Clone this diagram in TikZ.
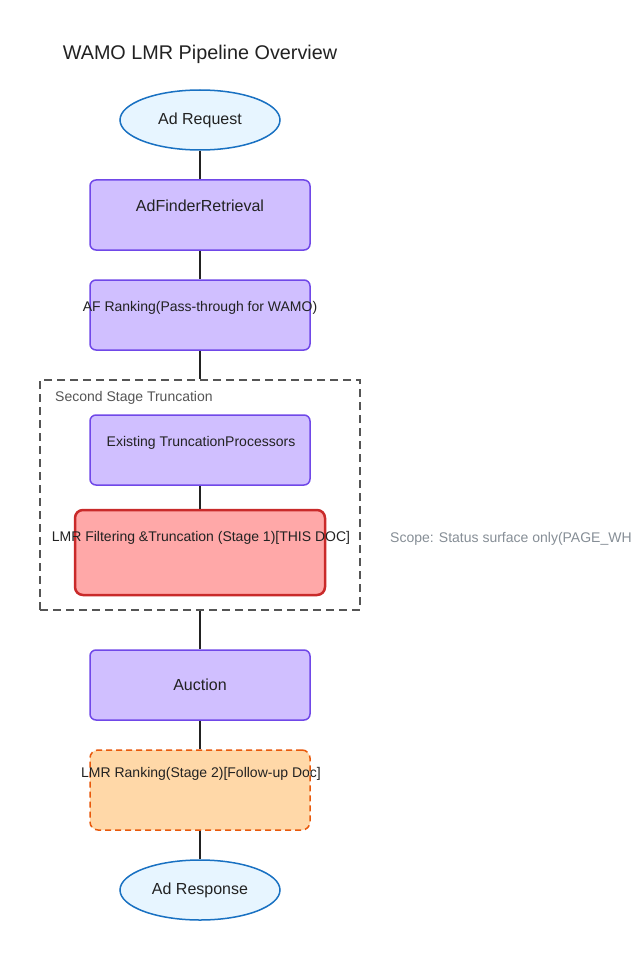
\documentclass[tikz,border=0pt]{standalone}
\usepackage{fontspec}
\setmainfont{Liberation Sans}
\usepackage{tikz}
\usetikzlibrary{shapes.geometric}

\definecolor{procfill}{HTML}{D0BFFF}
\definecolor{procline}{HTML}{7048E8}
\definecolor{termfill}{HTML}{E7F5FF}
\definecolor{termline}{HTML}{1971C2}
\definecolor{focusfill}{HTML}{FFA8A8}
\definecolor{focusline}{HTML}{C92A2A}
\definecolor{nextfill}{HTML}{FFD8A8}
\definecolor{nextline}{HTML}{E8590C}
\definecolor{groupline}{HTML}{555555}
\definecolor{inktext}{HTML}{222222}
\definecolor{notetext}{HTML}{868E96}

\begin{document}
\begin{tikzpicture}[x=1pt, y=-1pt]
    \tikzstyle{terminal} = [ellipse, draw=termline, line width=1.5pt, fill=termfill, inner sep=0pt, minimum width=160pt, minimum height=60pt, text=inktext, font=\fontsize{16}{18}\selectfont]
    \tikzstyle{process} = [rectangle, rounded corners=6pt, draw=procline, line width=1.5pt, fill=procfill, inner sep=0pt, minimum width=220pt, minimum height=70pt, text=inktext, font=\fontsize{16}{18}\selectfont]
    \tikzstyle{focus} = [rectangle, rounded corners=8pt, draw=focusline, line width=2.5pt, fill=focusfill, inner sep=0pt, minimum width=250pt, minimum height=85pt]
    \tikzstyle{followup} = [rectangle, rounded corners=8pt, draw=nextline, line width=1.5pt, dash pattern=on 6pt off 4pt, fill=nextfill, inner sep=0pt, minimum width=220pt, minimum height=80pt]
    \tikzstyle{group} = [rectangle, draw=groupline, line width=1.2pt, dash pattern=on 8pt off 5pt, inner sep=0pt, minimum width=320pt, minimum height=230pt]
    \tikzstyle{boxtext} = [inner sep=0pt, text=inktext, font=\fontsize{14}{16}\selectfont]
    \tikzstyle{bigtext} = [inner sep=0pt, text=inktext, font=\fontsize{16}{18}\selectfont]
    \tikzstyle{link} = [draw=inktext, line width=1.5pt]

    \useasboundingbox (0,0) rectangle (630,960);
    \fill[white] (0,0) rectangle (630,960);
    \clip (0,0) rectangle (630,960);

    % Title
    \node[inner sep=0pt, text=inktext, font=\fontsize{19.8}{24}\selectfont] (title) at (200,54) {WAMO LMR Pipeline Overview};

    % Request side
    \node[terminal] (request) at (200,120) {Ad Request};
    \node[process] (retrieval) at (200,215) {};
    \node[bigtext] (retrievaltxt) at (200,206) {AdFinderRetrieval};
    \node[process] (afranking) at (200,315) {};
    \node[boxtext] (afrankingtxt) at (200,308) {AF Ranking(Pass-through for WAMO)};

    % Second stage truncation
    \node[group] (truncation) at (200,495) {};
    \node[anchor=west, inner sep=0pt, text=groupline, font=\fontsize{14}{16}\selectfont] (truncationtxt) at (55,398) {Second Stage Truncation};
    \node[process] (existing) at (200,450) {};
    \node[boxtext] (existingtxt) at (201,443) {Existing TruncationProcessors};
    \node[focus] (filtering) at (200,552.5) {};
    \node[boxtext] (filteringtxt) at (201,538) {LMR Filtering \&Truncation (Stage 1)[THIS DOC]};

    % Note
    \node[anchor=west, inner sep=0pt, text=notetext, font=\fontsize{14}{16}\selectfont] (scope) at (390,539) {Scope: Status surface only(PAGE\_WH};

    % Response side
    \node[process] (auction) at (200,685) {Auction};
    \node[followup] (lmrranking) at (200,790) {};
    \node[boxtext] (lmrrankingtxt) at (201,774) {LMR Ranking(Stage 2)[Follow-up Doc]};
    \node[terminal] (response) at (200,890) {Ad Response};

    % Links
    \draw[link] (request) -- (retrieval);
    \draw[link] (retrieval) -- (afranking);
    \draw[link] (afranking) -- (truncation);
    \draw[link] (existing) -- (filtering);
    \draw[link] (truncation) -- (auction);
    \draw[link] (auction) -- (lmrranking);
    \draw[link] (lmrranking) -- (response);
\end{tikzpicture}
\end{document}
